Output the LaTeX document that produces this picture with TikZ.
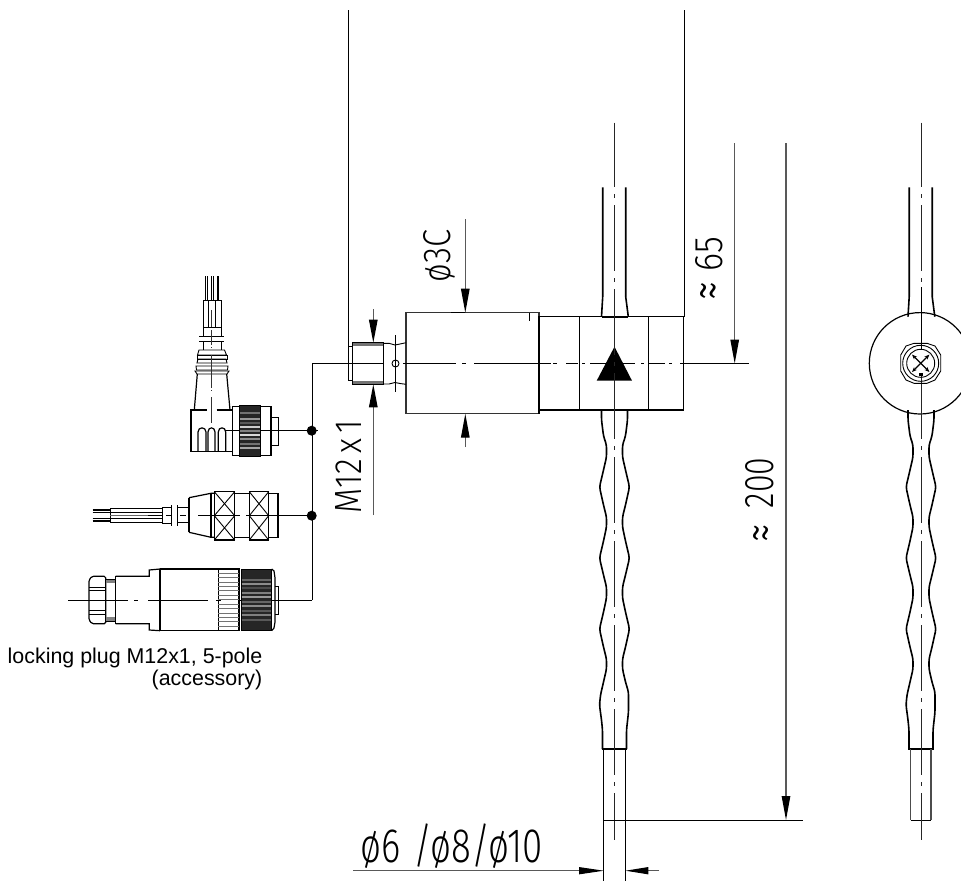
\documentclass[tikz,border=0pt]{standalone}
\usepackage{fontspec}
\setmainfont{Liberation Sans}
\newfontfamily\dimfont{Fira Sans Light}
\usetikzlibrary{arrows.meta}
\tikzset{
  thinl/.style={line width=0.9pt,black},
  med/.style={line width=1.2pt,black},
  thick2/.style={line width=1.6pt,black},
  dimline/.style={line width=1.2pt,black!65,-{Triangle[length=24pt,width=8.5pt,black]}},
  extl/.style={line width=1pt,black},
  axisv/.style={line width=1pt,black!85,dash pattern=on 66pt off 7pt on 4pt off 7pt,dash phase=1.7pt},
  dimtext/.style={inner sep=0pt,outer sep=0pt},
  knurl/.style={fill=black!85,draw=black,line width=0.8pt},
  junction/.style={circle,fill=black,inner sep=0pt,minimum size=10pt},
}
\newcommand{\dimlabel}[3]{\resizebox{#1pt}{#2pt}{\dimfont #3}}
% wave profile for a corrugated tube, centre #1
\newcommand{\corrugated}[1]{%
  \draw[thick2,line join=round,rounded corners=3pt] (#1-13,410) -- (#1-13,420) -- (#1-11,436) -- (#1-8,445) -- (#1-8,457) -- (#1-11,470) -- (#1-15,487) -- (#1-11,505) -- (#1-8,517) -- (#1-8,527) -- (#1-11,541) -- (#1-15,558) -- (#1-11,575) -- (#1-8,587) -- (#1-8,598) -- (#1-11,612) -- (#1-15,629) -- (#1-11,647) -- (#1-8,659) -- (#1-8,669) -- (#1-11,682) -- (#1-14,695) -- (#1-15,705) -- (#1-13,720) -- (#1-12,730) -- (#1-12,749);
  \draw[thick2,line join=round,rounded corners=3pt] (#1+12,749) -- (#1+12,730) -- (#1+14,712) -- (#1+14,692) -- (#1+11,682) -- (#1+8,669) -- (#1+8,659) -- (#1+11,647) -- (#1+15,629) -- (#1+11,612) -- (#1+8,598) -- (#1+8,587) -- (#1+11,575) -- (#1+15,558) -- (#1+11,541) -- (#1+8,527) -- (#1+8,517) -- (#1+11,505) -- (#1+15,487) -- (#1+11,470) -- (#1+8,457) -- (#1+8,445) -- (#1+11,436) -- (#1+13,420) -- (#1+13,410);
  \draw[line width=2pt] (#1-12.8,749) -- (#1+12.8,749);
  \draw[thick2] (#1-11.8,187.3) -- (#1-11.8,296.7) -- (#1-13,316.7);
  \draw[thick2] (#1+11.2,187.3) -- (#1+11.2,296.7) -- (#1+13.8,316.7);
}
\begin{document}
\begin{tikzpicture}[x=1pt,y=-1pt]
\useasboundingbox (0,0) rectangle (961,881);

% ---- long extension lines
\draw[extl] (348.7,10) -- (348.7,346);
\draw[extl] (684,10) -- (684,316.7);

% ---- sensor body
\draw[med,black!80] (406,312.7) rectangle (539,413.7);
\draw[thinl] (529.3,312.7) -- (529.3,321);
\draw[line width=1.5pt] (451,312.7) -- (465.3,312.7);
\draw[med] (539,316.7) rectangle (683.5,410);
\draw[med] (579.3,316.7) -- (579.3,410);
\draw[med] (648.3,316.7) -- (648.3,410);
\draw[line width=1.6pt] (539,316.7) -- (539,413.7);

% ---- thread
\fill[black!55] (352.3,342.7) rectangle (383.7,345.9);
\fill[black!55] (352.3,381.1) rectangle (383.7,384.3);
\draw[thinl] (352.3,342.7) rectangle (383.7,384.3);
\draw[thinl] (348.7,346) -- (352.3,346);
\draw[thinl] (348.7,346) -- (348.7,380.7) -- (352.3,380.7);
\draw[thinl] (383.7,343.3) -- (389,343.3) -- (395,345) -- (400,344) -- (406,342.7);
\draw[thinl] (383.7,384) -- (389,384) -- (395,382.5) -- (400,383.5) -- (406,384.3);
\draw[thinl] (395.3,335) -- (395.3,391.7);
\draw[thinl] (395.5,363.5) circle (3.5);

% ---- flow triangle
\fill (614.5,346.7) -- (632,380.7) -- (596.7,380.7) -- cycle;

% ---- main horizontal axis
\foreach \a/\b in {312/383.7,403/456,462/466,474/551,553/557,566/578,582/585,590/635,641/644,649/665,669/672,680/749}
  \draw[extl] (\a,363.5) -- (\b,363.5);

% ---- tube, left view
\corrugated{614.5}
\draw[line width=2pt] (601.5,316.7) -- (628.3,316.7);
\draw[line width=2pt] (601.5,410) -- (628,410);
\draw[thinl] (603.8,749) -- (603.8,881);
\draw[thinl] (625.3,749) -- (625.3,881);
\draw[axisv] (614.7,122.7) -- (614.7,840);

% ---- tube, right view
\draw[med] (920,363.3) circle (50.7);
\corrugated{921}
\draw[med,black!70] (910.7,749) -- (910.7,820);
\draw[med,black!70] (931,749) -- (931,820);
\draw[thinl] (910.7,820) -- (931,820);
\draw[axisv] (921.3,122.7) -- (921.3,287);
\draw[thinl] (921.3,287) -- (921.3,350);
\draw[axisv,dash phase=1pt] (921.3,374) -- (921.3,840);
% socket
\draw[thinl] (940.7,355) -- (935,346) -- (927,343.3) -- (914,343.3) -- (906,346) -- (900.7,355) -- (900.7,371) -- (906,380) -- (914,383.3) -- (927,383.3) -- (935,380) -- (940.7,371) -- cycle;
\draw[thinl] (920.7,363.3) circle (18);
\draw[thinl] (920.7,363.3) circle (14);
\draw[med,{Stealth[length=5pt,width=4pt]}-{Stealth[length=5pt,width=4pt]}] (912,354.6) -- (929.4,372);
\draw[med,{Stealth[length=5pt,width=4pt]}-{Stealth[length=5pt,width=4pt]}] (929.4,354.6) -- (912,372);
\fill (919,372.5) rectangle (923,376);

% ---- dimension lines
\draw[dimline] (465.3,219) -- (465.3,312.7);
\draw[dimline] (465.3,447) -- (465.3,413.7);
\draw[dimline,-{Triangle[length=23pt,width=8.5pt,black]}] (373.3,309) -- (373.3,342.7);
\draw[dimline,-{Triangle[length=23pt,width=8.5pt,black]}] (373.3,515) -- (373.3,384.3);
\draw[dimline] (734.7,143) -- (734.7,363.5);
\draw[dimline] (786,143) -- (786,820);
\draw[extl] (603.3,820) -- (803,820);
\draw[dimline,-{Triangle[length=25pt,width=7pt,black]}] (353,870.7) -- (604,870.7);
\draw[dimline,-{Triangle[length=23pt,width=7pt,black]}] (659,870.7) -- (625.3,870.7);

% ---- dimension texts
\node[dimtext,rotate=90] (d30) at (439.5,256) {\dimlabel{52}{27}{ø3C}};
\node[dimtext,rotate=90] (d65) at (709,254.3) {\dimlabel{34.6}{27}{65}};
\node[dimtext,rotate=90] (a65) at (713.5,290.5) {\dimlabel{19}{26}{≈}};
\node[dimtext,rotate=90] (d200) at (760,483) {\dimlabel{50.6}{28}{200}};
\node[dimtext,rotate=90] (a200) at (765.5,533.5) {\dimlabel{18.5}{25}{≈}};
\node[dimtext,rotate=90] (dm12) at (348,466.5) {\dimlabel{93}{26}{M12\,x\,1}};
\node[dimtext] (dtube) at (451.7,846.4) {\dimlabel{182}{38.7}{ø6\,\,/ø8/ø10}};

% ---- leader and junctions
\draw[extl] (312,363.5) -- (312,600.3);
\draw[extl] (280,600.3) -- (312,600.3);

% ---- angled connector
\foreach \x in {205.7,207.6,211.4,213,217,218.8}
  \draw[line width=0.9pt] (\x,276) -- (\x,300);
\draw[thinl] (203,300) rectangle (221,336.7);
\draw[thinl] (208.3,300) -- (208.3,327) -- (215,327) -- (215,300);
\draw[thinl] (203,327) -- (221,327);
\draw[thinl] (199.3,336.7) -- (224.3,336.7);
\draw[thinl] (199.3,341.7) -- (224.3,341.7);
\draw[thinl] (203,341.7) -- (203,350);
\draw[thinl] (221,341.7) -- (221,350);
\draw[thinl] (199,350) -- (224.5,350) -- (226.5,355) -- (197.5,355) -- cycle;
\draw[thinl] (197,355) rectangle (227,359);
\draw[thinl] (198,359) -- (226,359) -- (227,363) -- (197,363) -- cycle;
\draw[thinl] (196,366) -- (228,366) -- (227.5,370) -- (196.5,370) -- cycle;
\draw[thinl] (195,371) -- (229,371) -- (227,374) -- (197,374) -- cycle;
\draw[med] (197.3,374) -- (194.3,410);
\draw[med] (226.7,374) -- (230,410);
\draw[med] (206.7,410) -- (191,410) -- (191,451.7) -- (232.3,451.7);
\draw[med] (216.7,410) -- (232.3,410);
\foreach \a/\b in {198/206,208/215,218.3/225.7}
  \draw[med] (\a,451.7) -- (\a,432) .. controls (\a,426.5) and (\b,426.5) .. (\b,432) -- (\b,451.7);
\draw[med] (232.3,406.7) rectangle (271,455.3);
\draw[thinl] (271,417) rectangle (278.3,445);
\draw[knurl] (239.3,405.3) rectangle (260.3,456.7);
\foreach \y/\c in {413/black!55,419/black!40,423/black!65,427/black!20,431/black!50,435/black!15,439/black!45,444/black!55,448/black!35}
  \draw[\c,line width=1.2pt] (240,\y) -- (259.6,\y);
\draw[thinl] (225,430.7) -- (239.3,430.7);
\draw[thinl] (260.3,430.7) -- (305,430.7);
\draw[thinl] (305,430.7) -- (318,430.7);
\foreach \a/\b in {310/327,330/345,347/348,355/388,390/391,397/423}
  \draw[thinl,black!80] (211,\a) -- (211,\b);
\node[junction] (j1) at (311.7,430.7) {};

% ---- straight connector
\draw[line width=1.3pt] (92.7,510) -- (110,510);
\draw[line width=1.3pt] (92.7,521) -- (110,521);
\draw[thinl] (92.7,512.2) -- (110,512.2);
\draw[thinl] (92.7,518.7) -- (110,518.7);
\draw[thinl] (110,508) rectangle (162.3,522.3);
\draw[line width=1.3pt] (110,512.5) -- (162.3,512.5);
\draw[black!60,line width=1pt] (110,515.2) -- (162.3,515.2);
\draw[black!60,line width=1pt] (140,518.3) -- (162.3,518.3);
\draw[thinl] (110,518.8) -- (162.3,518.8);
\draw[thinl] (162.3,507) rectangle (171.7,523.3);
\draw[thinl] (171.7,505) -- (171.7,526);
\draw[thinl] (177.3,505) -- (177.3,526);
\draw[thinl] (177.3,507) rectangle (189,522.7);
\draw[med] (189,497.7) -- (211,493.3) -- (214.3,493.3);
\draw[med] (189,532.3) -- (211,537.3) -- (214.3,537.3);
\draw[med] (189,497.7) -- (189,532.3);
\draw[med] (211,493.3) -- (211,537.3);
\draw[med] (234.7,493.3) -- (249.3,493.3);
\draw[med] (234.7,537.3) -- (249.3,537.3);
\draw[med] (268.7,493.3) -- (278,493.3) -- (278,537.3) -- (268.7,537.3);
\foreach \a/\b in {214.3/234.7,249.3/268.7}{
  \draw[med] (\a,491.7) rectangle (\b,540);
  \draw[thinl] (\a,491.7) -- (\b,515.7) -- (\a,540);
  \draw[thinl] (\b,491.7) -- (\a,515.7) -- (\b,540);
}
\foreach \a/\b in {148/162,166/171,180/186,198/240,246/312}
  \draw[thinl] (\a,515.7) -- (\b,515.7);
\node[junction] (j2) at (311.7,515.7) {};

% ---- lower connector
\draw[med,rounded corners=1.5pt] (89,580) -- (92,576.3) -- (105.7,576.3) -- (105.7,623.7) -- (92,623.7) -- (89,620) -- cycle;
\draw[thinl] (89,587) -- (105.7,587);
\draw[thinl] (89,590) -- (105.7,590);
\draw[thinl] (89,610) -- (105.7,610);
\draw[thinl] (89,614) -- (105.7,614);
\fill[black!50] (105.7,579.3) rectangle (115.7,583.3);
\fill[black!50] (105.7,617) rectangle (115.7,621);
\draw[thinl] (105.7,579.3) -- (115.7,579.3);
\draw[thinl] (105.7,621) -- (115.7,621);
\draw[med] (115.7,576.3) -- (149.3,576.3) -- (149.3,570) -- (160,569);
\draw[med] (115.7,623.7) -- (149.3,623.7) -- (149.3,630) -- (160,630.7);
\draw[med] (115.7,576.3) -- (115.7,623.7);
\draw[line width=1.4pt] (160,569) -- (160,630.7);
\draw[med] (160,569) -- (218.3,569);
\draw[med] (160,630.7) -- (218.3,630.7);
\draw[med] (218.3,569) rectangle (239,630.7);
\foreach \y in {573,577,582,586,590,595,599,604,608,613,617,621,626}
  \draw[black!55,line width=0.9pt] (218.3,\y) -- (239,\y);
\draw[knurl] (241,569) rectangle (271.7,630.7);
\foreach \y/\c in {580/black!60,584/black!45,588/black!70,593/black!50,597/black!40,602/black!60,606/black!45,611/black!65,615/black!50,620/black!65}
  \draw[\c,line width=1.2pt] (241.7,\y) -- (271,\y);
\draw[med] (271.7,569) -- (274,571) -- (275,578) -- (275,622) -- (274,628) -- (271.7,630.7);
\draw[thinl] (275,586.7) -- (278,586.7) -- (278,614) -- (275,614);
\foreach \a/\b in {68.3/128,134/138,148/208,216/221,239/241,271/312}
  \draw[thinl] (\a,600.3) -- (\b,600.3);
\draw[thinl] (149,600.3) -- (160,600.3);

% ---- caption
\node[anchor=north east,align=right,inner sep=0pt,font=\fontsize{21.4}{22}\selectfont] (cap) at (262.5,648) {locking plug M12x1, 5-pole\\(accessory)};
\end{tikzpicture}
\end{document}
